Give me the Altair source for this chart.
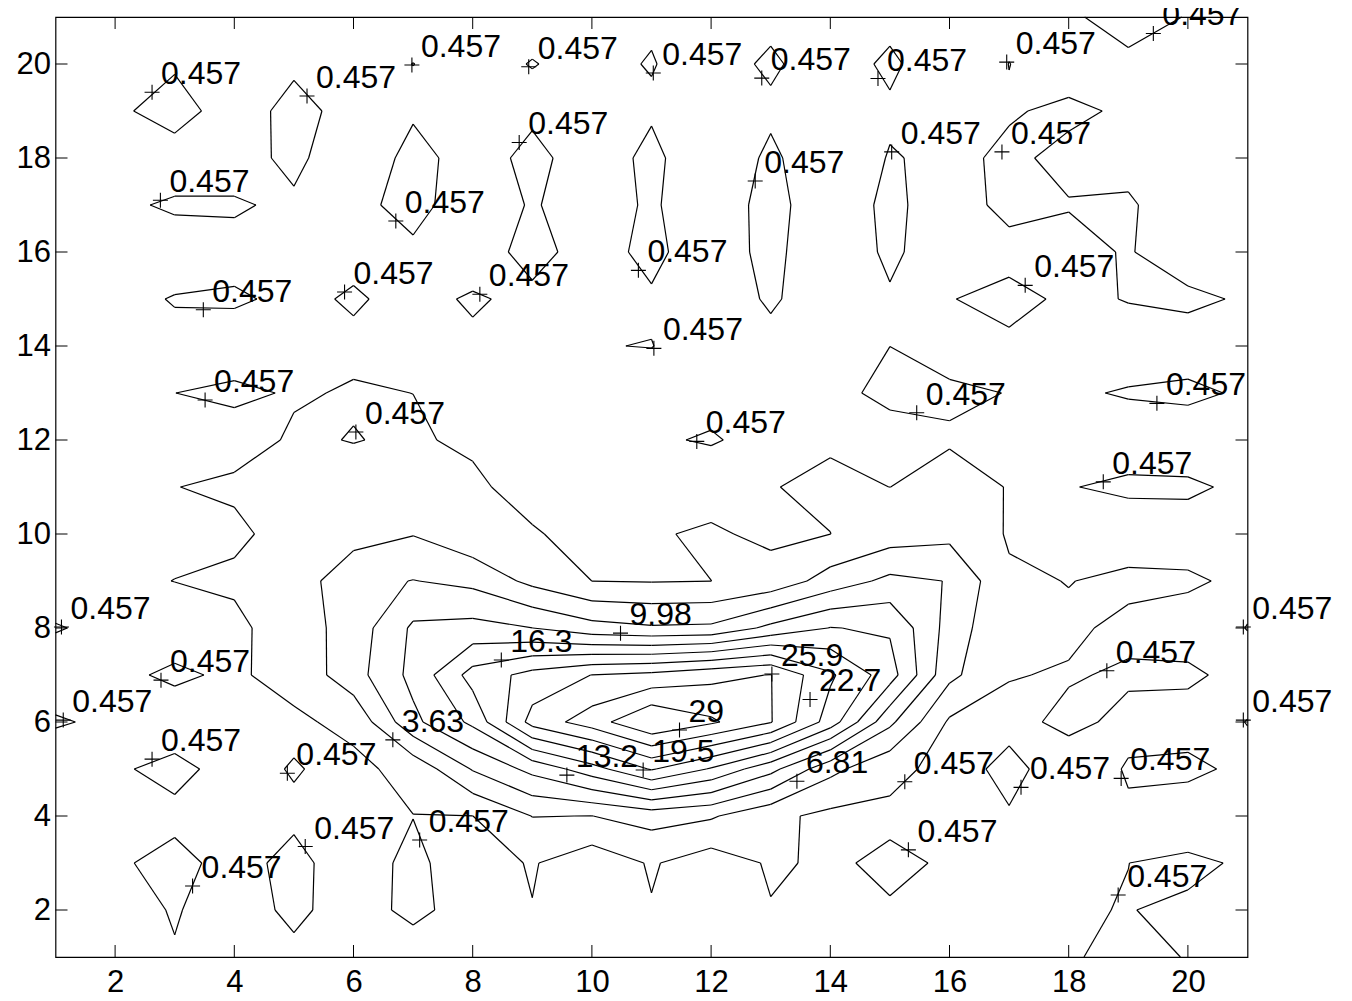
import altair as alt
import pandas as pd

# grid coordinates
xs = list(range(1, 22))
ys = list(range(1, 22))

# z values, one row per y = 1 ... 21, columns x = 1 ... 21
z_rows = [
    [0, 0, 0.33, 0, -0.02, 0, -0.7, 0, 0, 0, 0, 0, 0, 0, 0, 0, 0, 0.2, 1.2, 0.35, 0],
    [0, -0.35, 0.6, -0.5, 0.9, -0.5, 1.0, -0.5, 0.37, 0, 0.29, 0, 0.32, 0, 0.22, 0, 0, 0.35, 0.5, 0.2, 0],
    [0, 0.2, 1.0, -0.2, 1.0, -0.6, 1.0, -0.9, 0.7, -1.5, 0.75, -1.2, 0.8, 0.05, 1.0, 0.15, 0, 0, 0.45, 0.8, 0.22],
    [0, 0, 0, 0, 0.1, 0, 0.42, 0.44, 3.7, 3.6, 4.87, 4.0, 1.2, -0.3, -0.1, 0, 0.3, 0, 0.25, -0.7, 0],
    [-0.5, 0.2, 1.0, -0.3, 0.6, -0.2, 1.35, 7.05, 10.9, 15.0, 19.8, 16.0, 11.0, 4.5, 1.2, -0.4, 1.0, -0.6, 0.6, 0.9, -0.02],
    [0.6, 0.17, -0.65, 0, 0, 1.15, 9.2, 13.9, 23.9, 27.5, 32.17, 29.5, 26.1, 18.0, 7.5, 0, -0.1, 0.9, 0, -0.35, 0.5],
    [-0.35, 0, 0.8, 0.1, 1.35, 5.5, 10.9, 17.5, 20.6, 22.75, 23.5, 25.0, 26.0, 20.0, 14.6, 4.4, 0.55, 0.3, 0.7, 0.8, -0.2],
    [0.55, 0.08, -0.57, -0.2, 2.0, 5.0, 10.5, 11.0, 10.0, 8.0, 7.2, 7.4, 10.8, 13.3, 12.8, 5.6, 0.46, 0.8, 0, -0.45, 0.5],
    [-0.38, 0.1, 0.48, 0.9, 1.8, 5.87, 6.9, 6.0, 2.8, 0.45, 0.3, 0.45, 1.5, 5.0, 7.6, 6.7, 0.82, 0.4, 0.9, 0.75, 0],
    [0, 0, 0, 0, 1.35, 2.4, 3.5, 1.26, 0.7, -0.5, 0.22, 0.8, -0.1, 0.44, 2.0, 2.8, 0.2, 0, -0.63, -0.5, 0],
    [0, 0, 0.42, 0.8, 1.3, 1.2, 1.5, 0.9, -0.5, 0, 0, -0.6, 0.39, 0.8, 0.45, 1.0, 0.4, 0.38, 0.8, 0.8, 0],
    [0, 0, 0, -0.3, 0.68, 0.4, 0.7, 0.09, 0, 0, 0.26, 0.6, -0.1, 0.25, -0.5, 0.33, 0, 0, -0.5, -0.8, 0],
    [0, 0, 0.45, 0.8, 0.3, 0.59, 0.45, 0, 0, 0, -0.5, -0.08, 0, -0.15, 1.0, 0.64, 0.43, 0.23, 0.6, 0.9, 0.15],
    [0, 0, 0.03, -0.5, 0, 0.13, 0, 0.15, 0, 0.4, 0.5, -0.5, -0.53, -0.3, 0.45, 0.01, -0.04, 0, -0.5, -0.6, 0],
    [0, -0.03, 0.55, 0.7, 0.06, 0.64, -0.06, 0.65, 0.03, 0, 0.2, -1.5, 0.9, -1.5, 0.15, 0.36, 1.2, 0, 0.55, 0.9, 0.19],
    [0, 0, -0.45, -0.2, 0, 0, 0.15, -0.5, 1.1, -0.4, 1.0, -0.9, 1.2, -1.6, 1.0, -1.26, -0.4, -0.07, 0.6, -0.7, 0],
    [0, 0.11, 0.7, 0.7, 0.03, 0, 1.0, -0.5, 0.6, -0.35, 0.7, -0.8, 1.2, -1.0, 1.0, -0.8, 1.2, 0.55, 0.7, -0.73, 0],
    [0, 0, -0.6, -0.6, 1.1, -1.5, 1.3, -0.65, 1.1, -0.75, 1.0, -1.3, 0.9, -1.3, 0.6, 0, 0.8, 0, -0.17, 0, 0],
    [0, 0.03, 1.4, -0.7, 1.2, -0.38, 0.13, 0, 0, 0, 0.2, 0, 0.05, 0, 0.1, 0, 0.3, 0.8, 0.19, 0, 0],
    [0, 0, 0.19, 0, 0.06, 0, 0.47, 0, 0.51, 0.03, 0.55, -0.45, 0.8, -0.75, 0.9, -1.2, 0.48, -0.38, 0, 0, 0],
    [0, 0, 0, 0, 0, 0, 0, 0, 0, 0, 0.23, 0, -0.1, 0, -0.27, 0, 0, 0.15, 1.3, 0.36, 0],
]

levels = [0.457, 3.63, 6.81, 9.98, 13.2, 16.3, 19.5, 22.7, 25.9, 29.0]

# contour labels: position of the '+' and index into levels
label_x = [2.62, 5.22, 6.98, 8.94, 11.03, 12.85, 14.8, 16.96, 19.42, 8.78, 15.03, 16.88, 12.74,
           2.76, 6.71, 10.78, 17.27, 3.48, 5.85, 8.12, 11.04, 3.51, 6.04, 11.76, 15.45, 19.48,
           18.58, 1.1, 20.93, 2.77, 1.13, 20.93, 18.64, 2.62, 4.89, 6.66, 10.48, 8.48, 13.02,
           13.66, 11.47, 9.58, 10.86, 13.44, 15.25, 17.2, 18.88, 5.19, 7.11, 15.31, 3.3, 18.83]
label_y = [19.4, 19.32, 19.98, 19.94, 19.81, 19.7, 19.69, 20.04, 20.65, 18.33, 18.13, 18.13, 17.51,
           17.1, 16.66, 15.61, 15.29, 14.77, 15.15, 15.1, 13.95, 12.85, 12.17, 11.97, 12.58, 12.78,
           11.11, 8.02, 8.02, 6.89, 6.04, 6.04, 7.09, 5.21, 4.91, 5.62, 7.89, 7.32, 7.02,
           6.48, 5.83, 4.87, 4.98, 4.74, 4.73, 4.61, 4.8, 3.35, 3.49, 3.28, 2.51, 2.32]
label_lev = [0] * 35 + [1, 3, 5, 8, 7, 9, 4, 6, 2] + [0] * 8

x_ticks = [2, 4, 6, 8, 10, 12, 14, 16, 18, 20]
y_ticks = [2, 4, 6, 8, 10, 12, 14, 16, 18, 20]


# ---- marching squares on the grid ----
def contour_segments(zr, gx, gy, levs):
    out = []
    ny, nx = len(zr), len(zr[0])
    for lev in levs:
        for j in range(ny - 1):
            for i in range(nx - 1):
                va, vb = zr[j][i], zr[j][i + 1]
                vc, vd = zr[j + 1][i + 1], zr[j + 1][i]
                idx = (va > lev) | ((vb > lev) << 1) | ((vc > lev) << 2) | ((vd > lev) << 3)
                if idx == 0 or idx == 15:
                    continue
                x0, x1, y0, y1 = gx[i], gx[i + 1], gy[j], gy[j + 1]

                def ip(v1, v2):
                    return (lev - v1) / (v2 - v1)

                def E(name):
                    if name == "B":
                        return (x0 + ip(va, vb) * (x1 - x0), y0)
                    if name == "R":
                        return (x1, y0 + ip(vb, vc) * (y1 - y0))
                    if name == "T":
                        return (x0 + ip(vd, vc) * (x1 - x0), y1)
                    return (x0, y0 + ip(va, vd) * (y1 - y0))

                center = (va + vb + vc + vd) / 4.0
                table = {
                    1: [("B", "L")], 2: [("B", "R")], 3: [("L", "R")], 4: [("R", "T")],
                    6: [("B", "T")], 7: [("L", "T")], 8: [("L", "T")], 9: [("B", "T")],
                    11: [("R", "T")], 12: [("L", "R")], 13: [("B", "R")], 14: [("B", "L")],
                }
                if idx == 5:
                    pairs = [("B", "R"), ("L", "T")] if center > lev else [("B", "L"), ("R", "T")]
                elif idx == 10:
                    pairs = [("B", "L"), ("R", "T")] if center > lev else [("B", "R"), ("L", "T")]
                else:
                    pairs = table[idx]
                for p, q in pairs:
                    a, b = E(p), E(q)
                    out.append({"x": a[0], "y": a[1], "x2": b[0], "y2": b[1], "level": lev})
    return pd.DataFrame(out)


seg_df = contour_segments(z_rows, xs, ys, levels)
lab_df = pd.DataFrame({
    "x": label_x,
    "y": label_y,
    "txt": [f"{levels[k]:.3g}" for k in label_lev],
})
xt_df = pd.DataFrame({"t": x_ticks})
yt_df = pd.DataFrame({"t": y_ticks})

W, H = 1192, 940
FONT = "Liberation Sans"
FS_AX = 31
FS_LAB = 32
xscale = alt.Scale(domain=[1, 21], nice=False, zero=False)
yscale = alt.Scale(domain=[1, 21], nice=False, zero=False)

xaxis = alt.Axis(values=x_ticks, ticks=False, domain=False, grid=False,
                 labelFontSize=FS_AX, labelFont=FONT, labelColor="black",
                 labelPadding=10, title=None, labelFlush=False)
yaxis = alt.Axis(values=y_ticks, ticks=False, domain=False, grid=False,
                 labelFontSize=FS_AX, labelFont=FONT, labelColor="black",
                 labelPadding=5, title=None, labelFlush=False)

contours = alt.Chart(seg_df).mark_rule(color="black", strokeWidth=1.2).encode(
    x=alt.X("x:Q", scale=xscale, axis=xaxis),
    y=alt.Y("y:Q", scale=yscale, axis=yaxis),
    x2="x2:Q",
    y2="y2:Q",
)

plus = alt.Chart(lab_df).mark_point(
    shape="M-1,0L1,0M0,-1L0,1", size=225, filled=False, stroke="black",
    strokeWidth=1.1, opacity=1,
).encode(x=alt.X("x:Q", scale=xscale, axis=xaxis), y=alt.Y("y:Q", scale=yscale, axis=yaxis))

texts = alt.Chart(lab_df).mark_text(
    align="left", baseline="middle", dx=9, dy=-18, fontSize=FS_LAB, font=FONT, color="black",
).encode(x=alt.X("x:Q", scale=xscale, axis=xaxis), y=alt.Y("y:Q", scale=yscale, axis=yaxis),
         text="txt:N")

tick_len = 12
bottom_ticks = alt.Chart(xt_df).mark_rule(color="black", strokeWidth=1).encode(
    x=alt.X("t:Q", scale=xscale, axis=xaxis), y=alt.value(H), y2=alt.value(H - tick_len))
top_ticks = alt.Chart(xt_df).mark_rule(color="black", strokeWidth=1).encode(
    x=alt.X("t:Q", scale=xscale, axis=xaxis), y=alt.value(0), y2=alt.value(tick_len))
left_ticks = alt.Chart(yt_df).mark_rule(color="black", strokeWidth=1).encode(
    y=alt.Y("t:Q", scale=yscale, axis=yaxis), x=alt.value(0), x2=alt.value(tick_len))
right_ticks = alt.Chart(yt_df).mark_rule(color="black", strokeWidth=1).encode(
    y=alt.Y("t:Q", scale=yscale, axis=yaxis), x=alt.value(W), x2=alt.value(W - tick_len))

chart = alt.layer(
    contours, bottom_ticks, top_ticks, left_ticks, right_ticks, plus, texts
).properties(
    width=W, height=H,
    background="white",
    autosize=alt.AutoSizeParams(type="none"),
    padding={"left": 47.5, "top": 9, "right": 88, "bottom": 40},
).configure_view(
    stroke="black", strokeWidth=1.2
)

chart.save("out.html", embed_options={"renderer": "svg", "actions": False})
